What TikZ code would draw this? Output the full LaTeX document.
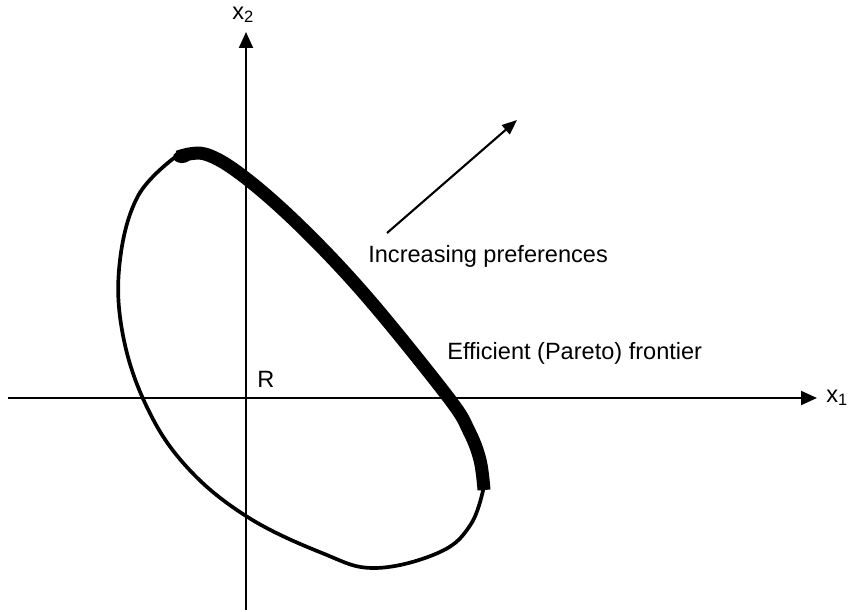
\documentclass[tikz,border=0pt]{standalone}
\usepackage{fontspec}
\setmainfont{Liberation Sans}
\usetikzlibrary{arrows.meta}
\tikzset{
  pareto/.style={x=0.02cm,y=-0.02cm,>={Triangle[length=0.32cm,width=0.28cm]}},
  axis/.style={->,line width=1.2pt},
  loopline/.style={line width=2.1pt,line join=round},
  frontier/.style={line width=7.4pt,line join=round},
  pref/.style={-{Triangle[length=0.3cm,width=0.24cm]},line width=1.2pt},
  note/.style={font=\fontsize{13.4}{16}\selectfont,inner sep=0pt},
}

\begin{document}
\begin{tikzpicture}[pareto]
\useasboundingbox (0,0) rectangle (849,612);
% axes through R
\coordinate (R) at (246,398);
\coordinate (xa) at (8,398);
\coordinate (xb) at (817,398);
\coordinate (ya) at (246,610);
\coordinate (yb) at (246,32);
\draw[axis] (xa) -- (xb);
\draw[axis] (ya) -- (yb);
\node[note,anchor=base west] (xlab) at (826,402) {x\textsubscript{1}};
\node[note,anchor=base west] (ylab) at (232,19) {x\textsubscript{2}};
\node[note,anchor=base west] (rlab) at (257,387) {R};
% attainable set, thin part
\draw[loopline] plot[smooth,tension=0.65] coordinates {
  (484,486) (471,524) (440,552) (375,568) (322,553) (246,516) (185,465)
  (145,403) (122,330) (120,260) (138,196) (174,158)};
% efficient frontier, thick part
\draw[frontier] plot[smooth,tension=0.6] coordinates {
  (178,157) (205,154) (243,176) (300,226) (367,297) (448,397) (469,431)
  (480,460) (484,490)};
\fill (182,157) ellipse (9 and 6);
% direction of preference
\coordinate (pa) at (387,233);
\coordinate (pb) at (517,120);
\draw[pref] (pa) -- (pb);
\node[note,anchor=base west] (incr) at (368,262) {Increasing preferences};
\node[note,anchor=base west] (eff) at (447,359) {Efficient (Pareto) frontier};
\end{tikzpicture}
\end{document}
